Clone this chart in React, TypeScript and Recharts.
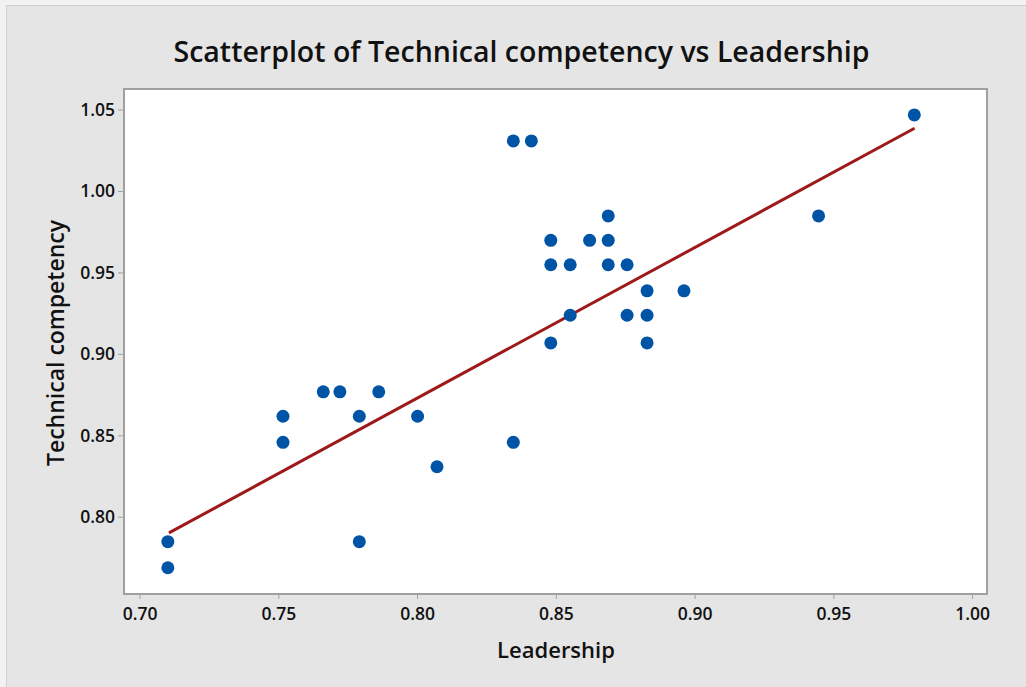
import React from 'react';
import {
  ScatterChart,
  Scatter,
  XAxis,
  YAxis,
  ReferenceArea,
} from 'recharts';

// Leadership (x) vs Technical competency (y)
const leadership = [
  0.710, 0.710, 0.7515, 0.7515, 0.766, 0.772, 0.779, 0.786, 0.779, 0.800,
  0.807, 0.8345, 0.848, 0.8827, 0.8345, 0.841, 0.8687, 0.848, 0.862, 0.8687,
  0.848, 0.855, 0.8687, 0.8755, 0.8827, 0.896, 0.855, 0.8755, 0.8827, 0.9445,
  0.979,
];
const technical = [
  0.785, 0.769, 0.862, 0.846, 0.877, 0.877, 0.862, 0.877, 0.785, 0.862,
  0.831, 0.846, 0.907, 0.907, 1.031, 1.031, 0.985, 0.970, 0.970, 0.970,
  0.955, 0.955, 0.955, 0.955, 0.939, 0.939, 0.924, 0.924, 0.924, 0.985,
  1.047,
];

// fitted line end points
const fitX = [0.7104, 0.9791];
const fitY = [0.7904, 1.0388];

const xTicks = [0.7, 0.75, 0.8, 0.85, 0.9, 0.95, 1.0];
const yTicks = [0.8, 0.85, 0.9, 0.95, 1.0, 1.05];

const points = leadership.map((x, i) => ({ x, y: technical[i] }));
const fitLine = fitX.map((x, i) => ({ x, y: fitY[i] }));

const FONT = '"Open Sans", "Noto Sans", sans-serif';
const BG = '#e5e5e5';

const Dot = (props: any) => (
  <circle cx={props.cx} cy={props.cy} r={6.5} fill="#0054a6" />
);

const XTick = (props: any) => (
  <text
    x={props.x}
    y={props.y + 19}
    textAnchor="middle"
    fill="#111"
    fontSize={17.5}
    fontWeight={600}
    fontFamily={FONT}
  >
    {Number(props.payload.value).toFixed(2)}
  </text>
);

const YTick = (props: any) => (
  <text
    x={props.x - 1}
    y={props.y + 6}
    textAnchor="end"
    fill="#111"
    fontSize={17.5}
    fontWeight={600}
    fontFamily={FONT}
  >
    {Number(props.payload.value).toFixed(2)}
  </text>
);

export default function App() {
  return (
    <div
      style={{
        position: 'absolute',
        left: 0,
        top: 0,
        width: 1026,
        height: 687,
        background: BG,
        fontFamily: FONT,
        overflow: 'hidden',
      }}
    >
      <div style={{ position: 'absolute', left: 0, top: 0, width: 1026, height: 5, background: '#f2f2f2' }} />
      <div style={{ position: 'absolute', left: 0, top: 0, width: 6, height: 687, background: '#f2f2f2' }} />
      <div style={{ position: 'absolute', left: 6, top: 5, width: 1020, height: 1, background: '#d0d0d0' }} />
      <div style={{ position: 'absolute', left: 6, top: 5, width: 1, height: 682, background: '#d0d0d0' }} />

      <ScatterChart
        width={1026}
        height={687}
        margin={{ top: 89, right: 39, bottom: 33, left: 44 }}
        style={{ position: 'absolute', left: 0, top: 0 }}
      >
        <ReferenceArea
          x1={0.6942}
          x2={1.0052}
          y1={0.7529}
          y2={1.0629}
          fill="#ffffff"
          fillOpacity={1}
          stroke="#a0a0a0"
          strokeWidth={2}
          ifOverflow="visible"
        />
        <XAxis
          type="number"
          dataKey="x"
          domain={[0.6942, 1.0052]}
          ticks={xTicks}
          allowDataOverflow
          height={60}
          axisLine={{ stroke: '#a0a0a0', strokeWidth: 2 }}
          tickLine={{ stroke: '#a0a0a0' }}
          tickSize={5}
          tick={<XTick />}
        />
        <YAxis
          type="number"
          dataKey="y"
          domain={[0.7529, 1.0629]}
          ticks={yTicks}
          allowDataOverflow
          width={80}
          axisLine={{ stroke: '#a0a0a0', strokeWidth: 2 }}
          tickLine={{ stroke: '#a0a0a0' }}
          tickSize={6}
          tick={<YTick />}
        />
        <Scatter
          data={fitLine}
          line={{ stroke: '#9e1a1a', strokeWidth: 3 }}
          shape={() => <g />}
          isAnimationActive={false}
        />
        <Scatter data={points} shape={Dot} isAnimationActive={false} />
      </ScatterChart>

      <div
        style={{
          position: 'absolute',
          left: 0,
          width: 1043,
          top: 32,
          textAlign: 'center',
          fontSize: 28.5,
          fontWeight: 600,
          color: '#111',
          whiteSpace: 'nowrap',
        }}
      >
        Scatterplot of Technical competency vs Leadership
      </div>
      <div
        style={{
          position: 'absolute',
          left: 456,
          width: 200,
          top: 634,
          textAlign: 'center',
          fontSize: 22,
          fontWeight: 600,
          color: '#111',
        }}
      >
        Leadership
      </div>
      <div
        style={{
          position: 'absolute',
          left: 55 - 150,
          top: 343 - 16,
          width: 300,
          textAlign: 'center',
          fontSize: 23,
          fontWeight: 600,
          color: '#111',
          transform: 'rotate(-90deg)',
          whiteSpace: 'nowrap',
        }}
      >
        Technical competency
      </div>
    </div>
  );
}
